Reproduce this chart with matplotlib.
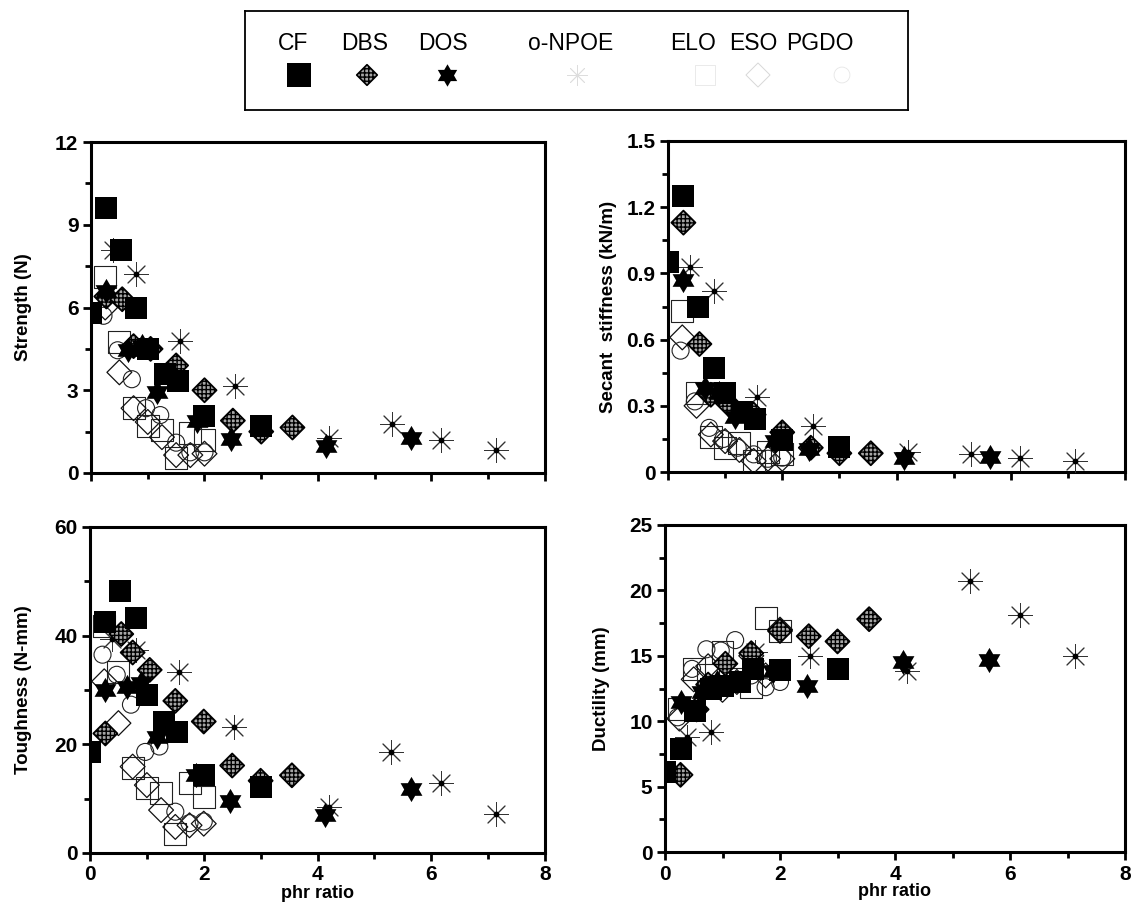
import matplotlib
matplotlib.use("Agg")
import matplotlib.pyplot as plt
from matplotlib.path import Path
from matplotlib.ticker import MultipleLocator

plt.rcParams['font.family'] = ['Liberation Sans', 'DejaVu Sans']

# phr ratio of each plasticizer series
cf_x = [0, 0.27, 0.53, 0.8, 1.0, 1.3, 1.53, 2.0, 3.0]
dbs_x = [0.27, 0.55, 0.75, 1.05, 1.5, 2.0, 2.5, 3.0, 3.55]
dos_x = [0.27, 0.65, 0.9, 1.17, 1.87, 2.47, 4.14, 5.64]
npoe_x = [0.38, 0.8, 1.56, 2.53, 4.2, 5.3, 6.17, 7.13]
elo_x = [0.25, 0.5, 0.75, 1.0, 1.25, 1.5, 1.75, 2.0]
eso_x = [0.25, 0.5, 0.75, 1.0, 1.25, 1.5, 1.75, 2.0]
pgdo_x = [0.22, 0.47, 0.72, 0.97, 1.22, 1.5, 1.75, 2.0]

# strength (N)
cf_str = [5.8, 9.6, 8.1, 6.0, 4.5, 3.6, 3.35, 2.05, 1.7]
dbs_str = [6.4, 6.3, 4.6, 4.5, 3.9, 3.0, 1.9, 1.5, 1.65]
dos_str = [6.6, 4.45, 4.6, 2.95, 1.9, 1.25, 0.97, 1.27]
npoe_str = [8.1, 7.2, 4.8, 3.15, 1.27, 1.76, 1.21, 0.85]
elo_str = [7.1, 4.75, 2.35, 1.7, 1.55, 0.55, 1.45, 1.2]
eso_str = [6.0, 3.65, 2.35, 1.85, 1.3, 0.65, 0.65, 0.7]
pgdo_str = [5.7, 4.45, 3.4, 2.35, 2.1, 1.1, 0.75, 0.75]

# secant stiffness (kN/m)
cf_stf = [0.95, 1.25, 0.75, 0.47, 0.36, 0.27, 0.24, 0.145, 0.115]
dbs_stf = [1.13, 0.58, 0.35, 0.31, 0.26, 0.18, 0.11, 0.085, 0.085]
dos_stf = [0.87, 0.38, 0.36, 0.25, 0.14, 0.105, 0.065, 0.07]
npoe_stf = [0.93, 0.82, 0.34, 0.21, 0.09, 0.08, 0.065, 0.05]
elo_stf = [0.73, 0.36, 0.16, 0.11, 0.13, 0.05, 0.09, 0.08]
eso_stf = [0.61, 0.30, 0.17, 0.14, 0.10, 0.05, 0.06, 0.06]
pgdo_stf = [0.55, 0.32, 0.2, 0.15, 0.11, 0.08, 0.06, 0.065]

# toughness (N-mm)
cf_tgh = [18.6, 42.6, 48.2, 43.2, 29.1, 24.2, 22.3, 14.3, 12.2]
dbs_tgh = [22.0, 40.3, 36.9, 33.7, 28.0, 24.2, 16.1, 13.3, 14.3]
dos_tgh = [30.0, 30.6, 31.3, 21.4, 14.3, 9.5, 7.0, 11.7]
npoe_tgh = [39.3, 37.4, 33.4, 23.1, 8.5, 18.5, 12.8, 7.2]
elo_tgh = [41.7, 33.4, 15.6, 11.9, 11.0, 3.5, 12.8, 10.3]
eso_tgh = [31.6, 23.9, 15.9, 12.5, 7.9, 4.8, 5.1, 5.4]
pgdo_tgh = [36.5, 32.8, 27.3, 18.6, 19.6, 7.6, 5.5, 5.8]

# ductility (mm)
cf_dct = [6.1, 7.9, 10.8, 12.5, 12.7, 13.0, 14.0, 13.9, 14.0]
dbs_dct = [5.9, 10.9, 12.8, 14.4, 15.2, 16.9, 16.5, 16.1, 17.8]
dos_dct = [11.5, 12.2, 13.0, 12.9, 13.8, 12.7, 14.5, 14.7]
npoe_dct = [8.8, 9.2, 15.3, 15.0, 13.8, 20.7, 18.1, 15.0]
elo_dct = [10.9, 14.0, 13.5, 15.3, 13.2, 12.6, 17.9, 16.9]
eso_dct = [10.2, 13.2, 14.2, 12.4, 13.0, 15.0, 13.5, 17.0]
pgdo_dct = [10.3, 14.0, 15.5, 15.4, 16.2, 13.5, 12.6, 13.0]

names = ['CF', 'DBS', 'DOS', 'o-NPOE', 'ELO', 'ESO', 'PGDO']

hexagram = Path.unit_regular_star(6, 0.58)


def draw_series(ax, ys):
    cf, dbs, dos, npoe, elo, eso, pgdo = ys
    ax.scatter(elo_x, elo, s=250, marker='s', facecolor='none', edgecolor='#222222', linewidths=0.8, zorder=3)
    ax.scatter(eso_x, eso, s=160, marker='D', facecolor='none', edgecolor='#111111', linewidths=0.9, zorder=3)
    ax.scatter(pgdo_x, pgdo, s=150, marker='o', facecolor='none', edgecolor='#222222', linewidths=0.8, zorder=3)
    ax.scatter(npoe_x, npoe, s=300, marker=(8, 2, 0), color='#333333', linewidths=0.7, zorder=4)
    ax.scatter(npoe_x, npoe, s=10, marker='o', color='black', zorder=4)
    ax.scatter(dbs_x, dbs, s=150, marker='D', facecolor='#a6a6a6', edgecolor='black',
               hatch='++++', linewidths=1.3, zorder=5)
    ax.scatter(dos_x, dos, s=330, marker=hexagram, color='black', linewidths=0, zorder=6)
    ax.scatter(cf_x, cf, s=270, marker='s', color='black', linewidths=0, zorder=7)


def style(ax, ymax, ymajor, ylabel, label_x, bottom):
    ax.set_xlim(0, 8)
    ax.set_ylim(0, ymax)
    ax.xaxis.set_major_locator(MultipleLocator(2))
    ax.xaxis.set_minor_locator(MultipleLocator(1))
    ax.yaxis.set_major_locator(MultipleLocator(ymajor))
    ax.yaxis.set_minor_locator(MultipleLocator(ymajor / 2))
    for sp in ax.spines.values():
        sp.set_linewidth(2.2)
    ax.tick_params(which='both', direction='out', width=2, top=False, right=False)
    ax.tick_params(which='major', length=6, labelsize=15, pad=3)
    ax.tick_params(which='minor', length=4)
    for lab in ax.get_xticklabels() + ax.get_yticklabels():
        lab.set_fontweight('bold')
    ax.set_ylabel(ylabel, fontsize=13.5, fontweight='bold')
    ax.yaxis.set_label_coords(label_x, 0.5)
    if bottom:
        ax.set_xlabel('phr ratio', fontsize=13, fontweight='bold', labelpad=0)
    else:
        ax.set_xticklabels([])


W, H = 1134, 918
fig = plt.figure(figsize=(W / 100, H / 100), dpi=100)


def box(l, r, t, b):
    return [l / W, 1 - b / H, (r - l) / W, (b - t) / H]


ax1 = fig.add_axes(box(91, 545, 142, 473))
ax2 = fig.add_axes(box(668, 1125, 141, 472))
ax3 = fig.add_axes(box(90, 545, 527, 853))
ax4 = fig.add_axes(box(665, 1125, 525, 852))

draw_series(ax1, [cf_str, dbs_str, dos_str, npoe_str, elo_str, eso_str, pgdo_str])
draw_series(ax2, [cf_stf, dbs_stf, dos_stf, npoe_stf, elo_stf, eso_stf, pgdo_stf])
draw_series(ax3, [cf_tgh, dbs_tgh, dos_tgh, npoe_tgh, elo_tgh, eso_tgh, pgdo_tgh])
draw_series(ax4, [cf_dct, dbs_dct, dos_dct, npoe_dct, elo_dct, eso_dct, pgdo_dct])

ax2.yaxis.set_major_formatter(plt.FuncFormatter(lambda v, p: '0' if v == 0 else f'{v:.1f}'))
style(ax1, 12, 3, 'Strength (N)', -0.13, False)
style(ax2, 1.5, 0.3, 'Secant  stiffness (kN/m)', -0.112, False)
style(ax3, 60, 20, 'Toughness (N-mm)', -0.127, True)
style(ax4, 25, 5, 'Ductility (mm)', -0.12, True)

# legend box: labels above, markers below
lg = fig.add_axes(box(245, 908, 11, 110))
lg.set_xlim(245, 908)
lg.set_ylim(110, 11)
lg.set_xticks([])
lg.set_yticks([])
for sp in lg.spines.values():
    sp.set_linewidth(1.3)
text_pos = [293, 365, 443, 571, 693, 753, 820]
mark_pos = [299, 367, 447, 577, 705, 758, 842]
for name, tx in zip(names, text_pos):
    lg.text(tx, 43, name, ha='center', va='center', fontsize=16.5)
lg.scatter([mark_pos[0]], [75], s=300, marker='s', color='black', linewidths=0)
lg.scatter([mark_pos[1]], [75], s=110, marker='D', facecolor='#a6a6a6', edgecolor='black',
           hatch='++++', linewidths=1.2)
lg.scatter([mark_pos[2]], [75], s=260, marker=hexagram, color='black', linewidths=0)
lg.scatter([mark_pos[3]], [75], s=200, marker=(8, 2, 0), color='#dddddd', linewidths=0.6)
lg.scatter([mark_pos[4]], [75], s=200, marker='s', facecolor='none', edgecolor='#e6e6e6', linewidths=0.6)
lg.scatter([mark_pos[5]], [75], s=150, marker='D', facecolor='none', edgecolor='#d8d8d8', linewidths=0.7)
lg.scatter([mark_pos[6]], [75], s=130, marker='o', facecolor='none', edgecolor='#e6e6e6', linewidths=0.6)

fig.savefig('out.png', dpi=100)
